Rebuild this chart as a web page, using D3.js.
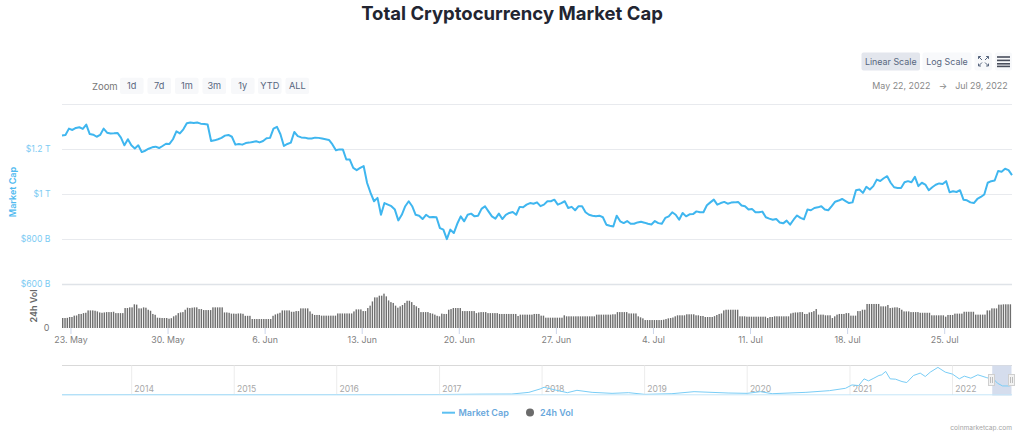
<!DOCTYPE html>
<html>
<head>
<meta charset="utf-8">
<script src="https://cdn.jsdelivr.net/npm/d3@7"></script>
<style>
  html, body { margin: 0; padding: 0; background: #fff; }
  svg { display: block; }
  text { font-family: Inter, "Noto Sans", sans-serif; }
</style>
</head>
<body>
<svg id="chart" width="1024" height="440"></svg>
<script>
// Total market cap in $B, one reading every 6 hours from the range start
const marketCap = [
1259,1261,1289,1283,1292,1295,1288,1307,1265,1262,1253,1261,1289,1271,1267,1268,1270,1249,1215,1242,
1215,1201,1215,1185,1191,1200,1206,1209,1203,1212,1222,1221,1242,1277,1268,1286,1313,1316,1314,1316,
1311,1310,1307,1234,1237,1242,1248,1258,1261,1253,1218,1221,1218,1225,1227,1230,1233,1228,1234,1246,
1248,1289,1297,1264,1212,1221,1227,1274,1256,1250,1249,1245,1245,1249,1248,1245,1242,1239,1219,1193,
1197,1197,1152,1152,1115,1105,1115,1123,1048,1004,967,982,907,959,952,945,930,882,907,945,
967,945,907,903,888,907,896,897,896,848,841,799,841,826,867,900,878,907,912,900,
903,933,945,922,900,890,912,888,907,915,919,907,942,940,952,959,956,962,945,952,
967,967,974,952,959,967,937,942,927,945,945,918,907,903,900,903,896,863,858,855,
903,878,870,879,867,867,873,876,872,867,864,879,870,867,893,900,918,907,885,915,
900,909,910,922,918,918,949,962,974,952,959,964,956,961,962,964,948,945,930,933,
918,918,921,896,890,885,888,873,869,881,863,885,904,893,887,930,927,937,940,945,
930,927,945,965,970,977,968,959,962,1016,1019,1004,1031,1019,1034,1063,1057,1069,1078,1049,
1029,1026,1026,1051,1056,1051,1075,1034,1049,1041,1016,1029,1040,1046,1043,1056,1007,1011,1008,1016,
974,971,962,959,977,986,997,1049,1056,1059,1101,1098,1111,1105,1083
];

// 24h volume in $B, one reading every 4 hours from the range start
const volume24h = [
59,59,60,65,65,73,74,83,83,88,90,104,104,104,102,98,92,90,92,94,
94,94,96,88,88,88,88,118,118,122,122,140,138,116,116,122,120,108,102,83,
78,61,60,59,59,59,55,58,69,75,88,92,94,108,120,118,120,122,122,112,
112,106,106,106,106,122,122,122,122,122,92,92,90,85,85,84,86,86,84,72,
72,72,53,53,53,53,53,53,53,53,53,72,80,85,90,104,104,104,104,96,
96,100,100,116,116,116,116,98,84,77,77,77,73,73,73,73,73,73,73,86,
86,86,86,86,86,86,98,110,110,110,100,100,118,132,157,181,181,191,191,203,
187,163,153,148,132,120,128,136,148,161,161,153,136,128,118,94,94,94,94,88,
85,79,72,69,85,83,83,108,112,118,118,118,118,100,100,100,100,100,100,88,
92,94,94,94,88,88,88,88,88,83,83,83,83,83,83,83,83,71,79,79,
79,79,79,79,83,83,83,73,73,61,61,61,61,61,61,61,61,75,69,69,
69,69,69,69,69,69,69,69,69,69,69,79,79,79,79,79,79,79,81,81,
94,94,94,94,94,86,86,86,86,69,63,57,47,47,47,47,47,47,47,47,
49,53,57,59,62,69,75,75,75,75,81,81,81,81,75,75,71,71,65,65,
65,65,70,77,83,86,104,108,108,108,108,108,108,69,69,69,67,67,67,67,
67,67,67,67,67,59,65,65,69,69,69,69,69,69,69,86,90,92,92,94,
94,83,83,92,94,100,112,79,79,79,75,75,75,59,69,79,83,83,83,88,
88,73,73,73,100,100,108,108,142,142,142,142,142,142,128,128,128,136,118,120,
122,122,118,108,98,98,98,94,94,94,94,90,90,90,90,90,75,75,75,75,
75,75,67,77,77,77,85,85,85,85,96,96,96,96,96,79,79,79,79,79,
104,104,116,116,116,138,138,140,140,140,140
];

// Whole-history overview series
const overviewDates = [
"2013-04-28","2014-01-01","2015-01-01","2016-01-01","2017-01-01","2017-06-01","2017-09-15","2017-11-15","2017-12-25","2018-01-08",
"2018-02-17","2018-04-01","2018-05-05","2018-06-28","2018-09-07","2018-11-05","2019-01-01","2019-04-08","2019-06-26","2019-10-25",
"2020-01-01","2020-02-17","2020-03-30","2020-07-28","2020-10-20","2020-12-16","2021-01-08","2021-02-01","2021-02-20","2021-03-08",
"2021-03-27","2021-04-14","2021-04-24","2021-05-08","2021-05-24","2021-06-12","2021-07-05","2021-07-22","2021-08-15","2021-09-08",
"2021-09-26","2021-10-14","2021-11-10","2021-12-06","2022-01-01","2022-01-25","2022-02-12","2022-03-07","2022-04-01","2022-05-01",
"2022-05-30","2022-06-10","2022-06-28","2022-07-22","2022-07-29"
];
const overviewCap = [
2,10,5,7,18,60,72,250,610,790,
500,215,465,250,143,215,36,107,322,179,
143,322,107,250,430,680,1038,967,1683,1468,
1754,2040,2112,2470,1683,1647,1396,1289,2040,2291,
1933,2400,2900,2400,2184,1683,1969,1754,2112,1826,
1575,1217,930,930,1000
];

const priceTicks = [1400, 1200, 1000, 800, 600];
const priceTickLabels = ["", "$1.2 T", "$1 T", "$800 B", "$600 B"];
const zoomButtons = ["1d", "7d", "1m", "3m", "1y", "YTD", "ALL"];
const overviewYears = [2014, 2015, 2016, 2017, 2018, 2019, 2020, 2021, 2022];

const BLUE = "#3fb6ef";
const svg = d3.select("#chart");

const rangeStart = new Date(2022, 4, 22, 9, 20);
const rangeEnd = new Date(2022, 6, 29, 21, 20);
const HOUR = 3600e3;

const x = d3.scaleTime().domain([rangeStart, rangeEnd]).range([62, 1012]);
const yPrice = d3.scaleLinear().domain([600, 1400]).range([284, 103.6]);
const yVol = d3.scaleLinear().domain([0, 260]).range([328, 284]);

const capPoints = marketCap.map((v, i) => [new Date(+rangeStart + i * 6 * HOUR), v]);
const volPoints = volume24h.map((v, i) => [new Date(+rangeStart + i * 4 * HOUR), v]);

// Title
svg.append("text").attr("x", 512).attr("y", 20).attr("text-anchor", "middle")
  .attr("font-size", 18.5).attr("font-weight", 700).attr("fill", "#222531")
  .text("Total Cryptocurrency Market Cap");

// Small rounded control with a centred caption
function control(g, x0, x1, y0, y1, fill, label, size) {
  g.append("rect").attr("x", x0).attr("y", y0).attr("width", x1 - x0).attr("height", y1 - y0)
    .attr("rx", 2).attr("fill", fill);
  if (label) {
    g.append("text").attr("x", (x0 + x1) / 2).attr("y", (y0 + y1) / 2 + 3.4)
      .attr("text-anchor", "middle").attr("font-size", size).attr("fill", "#58667e").text(label);
  }
}

const toolbar = svg.append("g");
control(toolbar, 861.5, 920, 52.5, 70.5, "#e3e6ed", "Linear Scale", 8.9);
control(toolbar, 922.5, 971.5, 52.5, 70.5, "#f8f9fb", "Log Scale", 8.9);
control(toolbar, 974.5, 992, 52.5, 70.5, "#f8f9fb");
control(toolbar, 995, 1012, 52.5, 70.5, "#f8f9fb");

// Fullscreen corners
const corners = [[978.5, 56.5, 1, 1], [988.5, 56.5, -1, 1], [978.5, 66, 1, -1], [988.5, 66, -1, -1]];
toolbar.selectAll("path.corner").data(corners).join("path").attr("class", "corner")
  .attr("d", d => `M${d[0]},${d[1]}l${3.5 * d[2]},${3.5 * d[3]}M${d[0]},${d[1]}l${2.4 * d[2]},0M${d[0]},${d[1]}l0,${2.4 * d[3]}`)
  .attr("stroke", "#58667e").attr("stroke-width", 1).attr("fill", "none");

// Menu glyph
toolbar.selectAll("rect.bar-line").data([56.2, 59.6, 63, 65.6]).join("rect").attr("class", "bar-line")
  .attr("x", 997).attr("width", 13).attr("y", d => d).attr("height", 1.6).attr("fill", "#4a4f5c");

// Zoom selector
svg.append("text").attr("x", 92).attr("y", 90.4).attr("font-size", 9.5).attr("fill", "#777").text("Zoom");
const zoomEdges = [120, 147.5, 175, 202.5, 231, 258, 285.5];
zoomButtons.forEach((label, i) => {
  control(svg, zoomEdges[i], zoomEdges[i] + 23.6, 77.7, 94, "#f7f8fa", label, 9.2);
});

// Range read-out
const readout = svg.append("g").attr("font-size", 8.9).attr("fill", "#888");
readout.append("text").attr("x", 872.3).attr("y", 88.8).text("May 22, 2022");
readout.append("text").attr("x", 943).attr("y", 88.8).attr("text-anchor", "middle").text("\u2192");
readout.append("text").attr("x", 1007.7).attr("y", 88.8).attr("text-anchor", "end").text("Jul 29, 2022");

// Price gridlines and labels
const priceAxis = d3.axisLeft(yPrice).tickValues(priceTicks).tickSize(0).tickPadding(0)
  .tickFormat((d, i) => priceTickLabels[i]);
const priceG = svg.append("g").attr("transform", "translate(50.5,0)").call(priceAxis);
priceG.select(".domain").remove();
priceG.selectAll("text").attr("font-size", 8.6).attr("fill", "#7ccbf3")
  .attr("font-family", "Inter, sans-serif");

svg.append("g").selectAll("line").data(priceTicks).join("line")
  .attr("x1", 62).attr("x2", 1012)
  .attr("y1", d => Math.round(yPrice(d)) + 0.5).attr("y2", d => Math.round(yPrice(d)) + 0.5)
  .attr("stroke", d => d === 600 ? "#dfe3e8" : "#e8eaee")
  .attr("stroke-width", d => d === 600 ? 1.5 : 1);

// Volume bars
svg.append("g").selectAll("rect").data(volPoints).join("rect")
  .attr("x", d => x(d[0]))
  .attr("width", 1.4)
  .attr("y", d => yVol(d[1]))
  .attr("height", d => yVol(0) - yVol(d[1]))
  .attr("fill", "#6e6e6e");

// Market cap line
const capLine = d3.line().x(d => x(d[0])).y(d => yPrice(d[1]));
svg.append("path").datum(capPoints).attr("d", capLine)
  .attr("fill", "none").attr("stroke", BLUE).attr("stroke-width", 2).attr("stroke-linejoin", "round");

// Date axis
const xAxis = d3.axisBottom(x).ticks(d3.timeMonday.every(1)).tickSize(6).tickPadding(3)
  .tickFormat(d3.timeFormat("%-d. %b"));
const xG = svg.append("g").attr("transform", "translate(0,328)").call(xAxis);
xG.select(".domain").remove();
xG.selectAll("line").attr("stroke", "#ccd6eb");
xG.selectAll("text").attr("font-size", 8.8).attr("fill", "#808080").attr("font-family", "Inter, sans-serif");

// Volume axis zero label
svg.append("text").attr("x", 49.5).attr("y", yVol(0) + 3.2).attr("text-anchor", "end")
  .attr("font-size", 9).attr("fill", "#777").text("0");

// Rotated axis titles
svg.append("text").attr("transform", "translate(15.5,192) rotate(-90)").attr("text-anchor", "middle")
  .attr("font-size", 9).attr("font-weight", 600).attr("fill", "#4fbaf0").text("Market Cap");
svg.append("text").attr("transform", "translate(36.5,306) rotate(-90)").attr("text-anchor", "middle")
  .attr("font-size", 9).attr("font-weight", 600).attr("fill", "#666").text("24h Vol");

// Overview strip
const parseDay = d3.timeParse("%Y-%m-%d");
const xNav = d3.scaleTime().domain([new Date(2013, 3, 28), rangeEnd]).range([62, 1011.5]);
const yNav = d3.scaleLinear().domain([0, 3100]).range([394.7, 365.5]);

const nav = svg.append("g");
nav.append("line").attr("x1", 62).attr("x2", 1012).attr("y1", 365.5).attr("y2", 365.5)
  .attr("stroke", "#d9d9d9");

nav.selectAll("line.year").data(overviewYears).join("line").attr("class", "year")
  .attr("x1", d => xNav(new Date(d, 0, 1))).attr("x2", d => xNav(new Date(d, 0, 1)))
  .attr("y1", 365.5).attr("y2", 395).attr("stroke", "#ececec");
nav.selectAll("text.year").data(overviewYears).join("text").attr("class", "year")
  .attr("x", d => xNav(new Date(d, 0, 1)) + 2.7).attr("y", 392)
  .attr("font-size", 8.6).attr("fill", "#a8a8a8").text(d => d);

nav.append("rect").attr("x", xNav(rangeStart)).attr("y", 365.5)
  .attr("width", xNav(rangeEnd) - xNav(rangeStart)).attr("height", 30)
  .attr("fill", "#d5dded");

const overviewLine = d3.line().x((d, i) => xNav(parseDay(overviewDates[i]))).y(d => yNav(d));
nav.append("path").datum(overviewCap).attr("d", overviewLine)
  .attr("fill", "none").attr("stroke", "#79cdf6").attr("stroke-width", 1);
nav.append("line").attr("x1", 62).attr("x2", 1012).attr("y1", 394.8).attr("y2", 394.8)
  .attr("stroke", "#c5e6f8").attr("stroke-width", 1);

// Selection handles
[rangeStart, rangeEnd].forEach(d => {
  const hx = Math.round(xNav(d)) - 0.5;
  const h = nav.append("g").attr("transform", `translate(${hx},0)`);
  h.append("rect").attr("x", -3).attr("y", 374.5).attr("width", 6).attr("height", 11)
    .attr("fill", "#f2f2f2").attr("stroke", "#cfcfcf");
  h.append("path").attr("d", "M-1,377V383M1,377V383").attr("stroke", "#bdbdbd").attr("fill", "none");
});

// Legend
svg.append("line").attr("x1", 442).attr("x2", 455).attr("y1", 412.7).attr("y2", 412.7)
  .attr("stroke", "#5cc0f2").attr("stroke-width", 2);
svg.append("text").attr("x", 458.5).attr("y", 416).attr("font-size", 9).attr("font-weight", 600)
  .attr("fill", "#6aa8dc").text("Market Cap");
svg.append("circle").attr("cx", 530).attr("cy", 412.5).attr("r", 4).attr("fill", "#6b6b6b");
svg.append("text").attr("x", 540).attr("y", 416).attr("font-size", 9).attr("font-weight", 600)
  .attr("fill", "#6aa8dc").text("24h Vol");

// Credit
svg.append("text").attr("x", 1012).attr("y", 430).attr("text-anchor", "end")
  .attr("font-size", 6.6).attr("fill", "#a6a6a6").text("coinmarketcap.com");
</script>
</body>
</html>
